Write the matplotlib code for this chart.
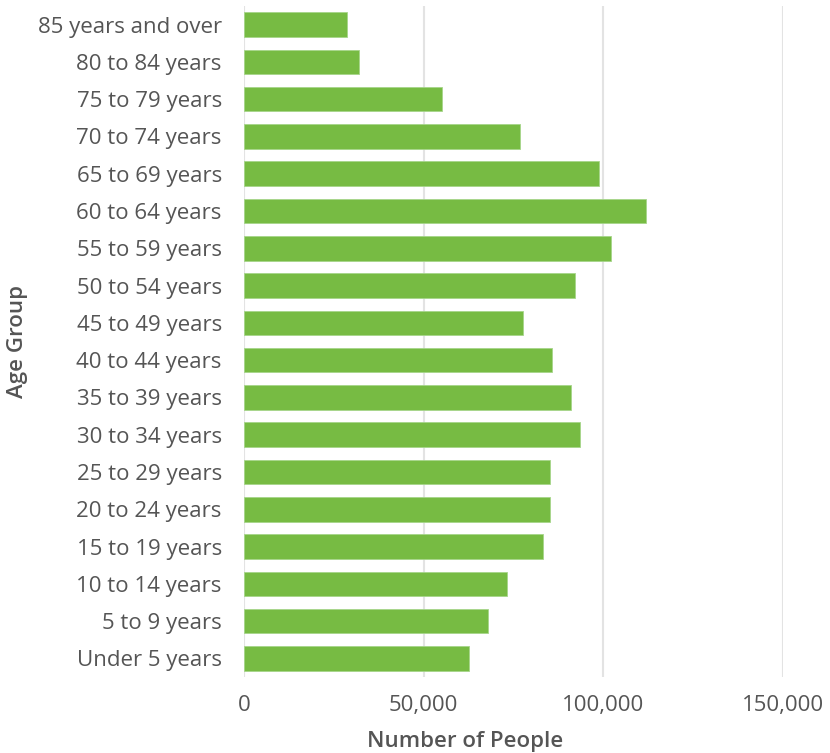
import matplotlib.pyplot as plt
from matplotlib.ticker import FuncFormatter

# age groups from oldest (top) to youngest (bottom)
age_groups = [
    "85 years and over", "80 to 84 years", "75 to 79 years", "70 to 74 years",
    "65 to 69 years", "60 to 64 years", "55 to 59 years", "50 to 54 years",
    "45 to 49 years", "40 to 44 years", "35 to 39 years", "30 to 34 years",
    "25 to 29 years", "20 to 24 years", "15 to 19 years", "10 to 14 years",
    "5 to 9 years", "Under 5 years",
]
people = [
    28800, 32100, 55100, 76900,
    98700, 112000, 102100, 92100,
    77600, 85600, 91100, 93500,
    85200, 85200, 83200, 73300,
    67800, 62600,
]
x_ticks = [0, 50000, 100000, 150000]

plt.rcParams['font.family'] = ['Open Sans', 'DejaVu Sans']
text_color = '#555555'

fig = plt.figure(figsize=(8.3, 7.53), dpi=100)
ax = fig.add_axes([244 / 830, 1 - 677 / 753, (783 - 244) / 830, (677 - 6) / 753])

pos = list(range(len(age_groups)))
ax.barh(pos, people, height=0.66, color='#77bb43', edgecolor='#a6d68a', linewidth=0.6, zorder=3)

ax.set_ylim(len(age_groups) - 0.5, -0.5)
ax.set_xlim(0, 150000)
ax.set_yticks(pos)
ax.set_yticklabels(age_groups)
ax.set_xticks(x_ticks)
ax.xaxis.set_major_formatter(FuncFormatter(lambda v, p: f"{int(v):,}"))

ax.grid(axis='x', color='#e3e3e3', linewidth=1.5, zorder=0)
for s in ax.spines.values():
    s.set_visible(False)
ax.tick_params(axis='both', length=0, labelsize=16, colors=text_color)
ax.tick_params(axis='y', pad=16)
ax.tick_params(axis='x', pad=13)

fig.text(465 / 830, 1 - 742 / 753, "Number of People", ha='center', va='center',
         fontsize=16, fontweight='semibold', color=text_color)
fig.text(18 / 830, 1 - 341 / 753, "Age Group", ha='center', va='center', rotation=90,
         fontsize=16, fontweight='semibold', color=text_color)

fig.savefig('out.png', dpi=100)
